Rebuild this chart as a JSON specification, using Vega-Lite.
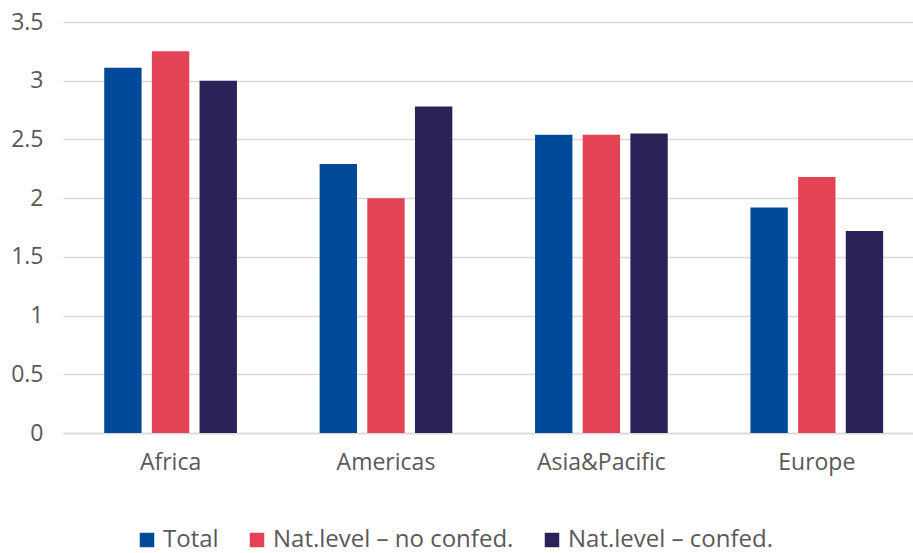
{
  "$schema": "https://vega.github.io/schema/vega-lite/v6.json",
  "width": 850,
  "height": 411,
  "autosize": "none",
  "padding": {"left": 63, "top": 22, "right": 0, "bottom": 120},
  "background": "white",
  "config": {
    "view": {"stroke": null},
    "font": "Open Sans"
  },
  "data": {
    "values": [
      {"region": "Africa", "series": "Total", "value": 3.11},
      {"region": "Africa", "series": "Nat.level – no confed.", "value": 3.25},
      {"region": "Africa", "series": "Nat.level – confed.", "value": 3.0},
      {"region": "Americas", "series": "Total", "value": 2.29},
      {"region": "Americas", "series": "Nat.level – no confed.", "value": 2.0},
      {"region": "Americas", "series": "Nat.level – confed.", "value": 2.78},
      {"region": "Asia&Pacific", "series": "Total", "value": 2.54},
      {"region": "Asia&Pacific", "series": "Nat.level – no confed.", "value": 2.54},
      {"region": "Asia&Pacific", "series": "Nat.level – confed.", "value": 2.55},
      {"region": "Europe", "series": "Total", "value": 1.92},
      {"region": "Europe", "series": "Nat.level – no confed.", "value": 2.18},
      {"region": "Europe", "series": "Nat.level – confed.", "value": 1.72}
    ]
  },
  "mark": {"type": "bar"},
  "encoding": {
    "x": {
      "field": "region",
      "type": "nominal",
      "sort": ["Africa", "Americas", "Asia&Pacific", "Europe"],
      "scale": {"paddingInner": 0.384, "paddingOuter": 0.165, "align": 0.58},
      "axis": {
        "title": null,
        "labelAngle": 0,
        "labelFontSize": 23,
        "labelColor": "#595959",
        "labelPadding": 18,
        "ticks": false,
        "domainColor": "#D9D9D9",
        "domainWidth": 1.5,
        "grid": false
      }
    },
    "xOffset": {
      "field": "series",
      "type": "nominal",
      "sort": ["Total", "Nat.level – no confed.", "Nat.level – confed."],
      "scale": {"paddingInner": 0.216, "paddingOuter": 0}
    },
    "y": {
      "field": "value",
      "type": "quantitative",
      "scale": {"domain": [0, 3.5], "nice": false},
      "axis": {
        "title": null,
        "values": [0, 0.5, 1, 1.5, 2, 2.5, 3, 3.5],
        "format": "~g",
        "labelFontSize": 23,
        "labelColor": "#595959",
        "labelPadding": 20,
        "ticks": false,
        "domain": false,
        "gridColor": "#D9D9D9",
        "gridWidth": 1.5
      }
    },
    "color": {
      "field": "series",
      "type": "nominal",
      "sort": ["Total", "Nat.level – no confed.", "Nat.level – confed."],
      "scale": {
        "domain": ["Total", "Nat.level – no confed.", "Nat.level – confed."],
        "range": ["#004898", "#E44356", "#2A2357"]
      },
      "legend": {
        "title": null,
        "orient": "none",
        "direction": "horizontal",
        "legendX": 72,
        "legendY": 506,
        "symbolType": "square",
        "symbolSize": 210,
        "symbolStrokeWidth": 0,
        "labelFontSize": 24,
        "labelColor": "#595959",
        "labelOffset": 4,
        "columnPadding": 26,
        "labelLimit": 400
      }
    }
  }
}
